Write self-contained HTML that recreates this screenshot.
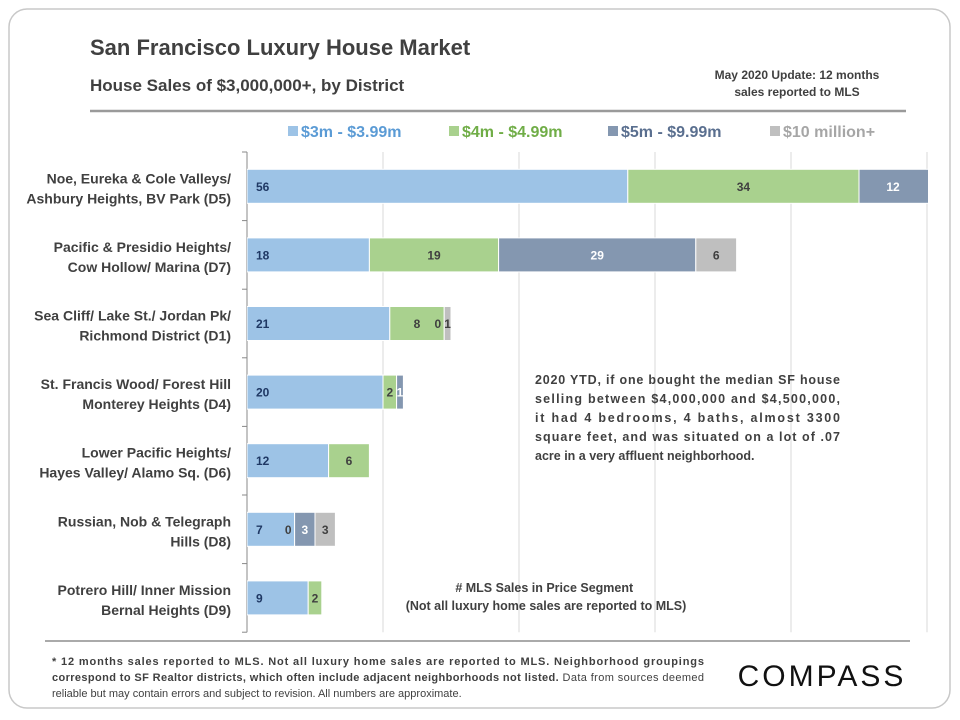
<!DOCTYPE html>
<html><head><meta charset="utf-8"><style>
body{margin:0;width:960px;height:720px;background:#fff;font-family:"Liberation Sans",sans-serif;overflow:hidden}
</style></head><body>
<svg width="960" height="720" style="position:absolute;left:0;top:0">
<rect x="9" y="9" width="941" height="699" rx="18" fill="#fff" stroke="#c8c8c8" stroke-width="1.5"/>
<text x="90" y="55" font-size="22" font-weight="bold" fill="#404040">San Francisco Luxury House Market</text>
<text x="90" y="91" font-size="17" font-weight="bold" fill="#404040">House Sales of $3,000,000+, by District</text>
<text x="797" y="79" font-size="12" font-weight="bold" fill="#404040" text-anchor="middle">May 2020  Update: 12 months</text>
<text x="797" y="96" font-size="12" font-weight="bold" fill="#404040" text-anchor="middle">sales reported to MLS</text>
<line x1="90" y1="111" x2="906" y2="111" stroke="#9a9a9a" stroke-width="2.5"/>
<g id="legend"></g>
<g id="grid"></g><g id="bars"></g><g id="labels"></g>
<text font-size="12.5" font-weight="bold" fill="#404040">
<tspan x="535" y="384" textLength="305">2020 YTD, if one bought the median SF house</tspan>
<tspan x="535" y="403" textLength="305">selling between $4,000,000 and $4,500,000,</tspan>
<tspan x="535" y="422" textLength="305">it had 4 bedrooms, 4 baths, almost 3300</tspan>
<tspan x="535" y="441" textLength="305">square feet, and was situated on a lot of .07</tspan>
<tspan x="535" y="460">acre in a very affluent neighborhood.</tspan></text>
<text font-size="12.5" font-weight="bold" fill="#404040" text-anchor="middle">
<tspan x="546" y="592"># MLS Sales in Price Segment</tspan>
<tspan x="546" y="610">(Not all luxury home sales are reported to MLS)</tspan></text>
<line x1="45" y1="641" x2="910" y2="641" stroke="#777" stroke-width="1.2"/>
<text font-size="11" fill="#404040">
<tspan x="52" y="665" font-weight="bold" textLength="652">* 12 months sales reported to MLS. Not all luxury home sales are reported to MLS. Neighborhood groupings</tspan>
<tspan x="52" y="681" textLength="652"><tspan font-weight="bold">correspond to SF Realtor districts, which often include adjacent neighborhoods not listed.</tspan> Data from sources deemed</tspan>
<tspan x="52" y="697">reliable but may contain errors and subject to revision. All numbers are approximate.</tspan></text>
<text x="822" y="686" font-size="30" fill="#111" text-anchor="middle" letter-spacing="3">COMPASS</text>
</svg>
<script>
const categories=[["Noe, Eureka & Cole Valleys/","Ashbury Heights, BV Park (D5)"],["Pacific & Presidio Heights/","Cow Hollow/ Marina (D7)"],["Sea Cliff/ Lake St./ Jordan Pk/","Richmond District (D1)"],["St. Francis Wood/ Forest Hill","Monterey Heights (D4)"],["Lower Pacific Heights/","Hayes Valley/ Alamo Sq. (D6)"],["Russian, Nob & Telegraph","Hills (D8)"],["Potrero Hill/ Inner Mission","Bernal Heights (D9)"]];
const seriesNames=["$3m - $3.99m","$4m - $4.99m","$5m - $9.99m","$10 million+"];
const s3m=[56,18,21,20,12,7,9];
const s4m=[34,19,8,2,6,0,2];
const s5m=[12,29,0,1,0,3,0];
const s10m=[0,6,1,0,0,3,0];
const gridTicks=[0,20,40,60,80,100];
const colors=["#9dc3e6","#a9d18e","#8497b0","#bfbfbf"];
const txtCol=["#1f3864","#404040","#fff","#404040"];
const legCol=["#5b9bd5","#70ad47","#5a6f8f","#a6a6a6"];
const NS="http://www.w3.org/2000/svg";
const x0=247,xMax=927,top0=152,rowH=68.6,barH=34;
const xs=v=>x0+v*(xMax-x0)/100;
function mk(t,a,p){const e=document.createElementNS(NS,t);for(const k in a)e.setAttribute(k,a[k]);p.appendChild(e);return e;}
const G=document.getElementById('grid'),B=document.getElementById('bars'),L=document.getElementById('labels'),LG=document.getElementById('legend');
gridTicks.slice(1).forEach(t=>{const l=mk('line',{x1:xs(t),x2:xs(t),y1:top0,y2:top0+rowH*7,stroke:'#d9d9d9'},G);

});
const ax=mk('line',{x1:x0,x2:x0,y1:top0,y2:top0+rowH*7,stroke:'#888'},G);


for(let i=0;i<=7;i++){const tk=mk('line',{x1:x0-5,x2:x0,y1:top0+i*rowH,y2:top0+i*rowH,stroke:'#888'},G);

}
const lx=[288,449,608,770];
seriesNames.forEach((n,i)=>{const r=mk('rect',{x:lx[i],y:126,width:10,height:10,fill:colors[i]},LG);


const t=mk('text',{x:lx[i]+13,y:137,'font-size':16,'font-weight':'bold',fill:legCol[i]},LG);t.textContent=n;

});
const clip=mk('clipPath',{id:'pc'},B);mk('rect',{x:x0,y:0,width:xMax-x0+1,height:720},clip);
B.setAttribute('clip-path','url(#pc)');
const series=[s3m,s4m,s5m,s10m];
categories.forEach((c,r)=>{
 const cy=top0+rowH*(r+0.5);
 c.forEach((ln,j)=>{const t=mk('text',{x:231,y:cy-3+j*20,'font-size':14,'font-weight':'bold',fill:'#404040','text-anchor':'end'},L);t.textContent=ln;
 
 });
 let acc=0;
 series.forEach((s,k)=>{const v=s[r];const xa=xs(acc),xb=xs(acc+v);
  if(v>0){const b=mk('rect',{x:xa,y:cy-barH/2,width:xb-xa,height:barH,fill:colors[k],stroke:'#fff','stroke-width':1},B);
  
  }
  const show=v>0||(k<3&&(s10m[r]>0||(k<2&&s5m[r]>0)));
  if(show&&!(v===0&&k===2&&s10m[r]===0)){
   let tx=k===0?xa+9:(xa+xb)/2;let anchor=k===0?'start':'middle';
   if(v===0){tx=xa-3;anchor='end';}
   if(xb>xMax)tx=(xa+xMax)/2;
   const t=mk('text',{x:tx,y:cy+4.5,'font-size':12,'font-weight':'bold',fill:v===0?'#404040':txtCol[k],'text-anchor':anchor},L);t.textContent=v;
   
   }
  acc+=v;});
});
</script>
</body></html>
